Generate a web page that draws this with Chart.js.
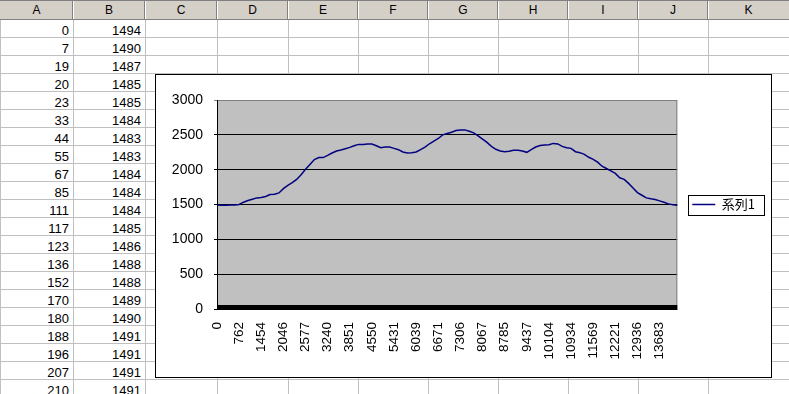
<!DOCTYPE html>
<html>
<head>
<meta charset="utf-8">
<script src="https://cdn.jsdelivr.net/npm/chart.js@4.4.0/dist/chart.umd.min.js"></script>
<style>
  html, body { margin: 0; padding: 0; background: #fff; overflow: hidden; }
  #sheet { position: relative; width: 789px; height: 394px; overflow: hidden; font-family: 'Liberation Sans', Arial, sans-serif; }
  #sheet div { position: absolute; }
  .hline { height: 1px; background: #c0c0c0; left: 0; width: 789px; }
  .vline { width: 1px; background: #c0c0c0; top: 20px; height: 380px; }
  .cell { height: 18px; line-height: 18px; font-size: 13px; text-align: right; color: #000; }
  .colname { top: 2px; height: 17px; line-height: 17px; font-size: 12px; text-align: center; color: #000; }
  #box { left: 155px; top: 74px; width: 617px; height: 304px; border: 1px solid #000; box-sizing: border-box; background: #fff; }
  #box canvas { display: block; }
</style>
</head>
<body>
<div id="sheet"></div>
<script>
// spreadsheet columns A and B
const colA = [0, 7, 19, 20, 23, 33, 44, 55, 67, 85, 111, 117, 123, 136, 152, 170, 180, 188, 196, 207, 210];
const colB = [1494, 1490, 1487, 1485, 1485, 1484, 1483, 1483, 1484, 1484, 1484, 1485, 1486, 1488, 1488, 1489, 1490, 1491, 1491, 1491, 1491];
const colNames = ['A', 'B', 'C', 'D', 'E', 'F', 'G', 'H', 'I', 'J', 'K'];

// chart data (one value every 5 categories between labels)
const tickLabels = ['0', '762', '1454', '2046', '2577', '3240', '3851', '4550', '5431', '6039', '6671',
  '7306', '8067', '8785', '9437', '10104', '10934', '11569', '12221', '12936', '13683'];
const values = [
  1494, 1490, 1491, 1492, 1494, 1500, 1533, 1557, 1576, 1595,
  1600, 1614, 1642, 1647, 1666, 1727, 1775, 1813, 1860, 1927,
  2007, 2074, 2145, 2173, 2173, 2204, 2239, 2268, 2282, 2301,
  2320, 2344, 2363, 2363, 2367, 2367, 2344, 2315, 2325, 2325,
  2306, 2287, 2254, 2239, 2244, 2254, 2287, 2325, 2372, 2410,
  2448, 2500, 2519, 2538, 2562, 2571, 2571, 2552, 2529, 2486,
  2439, 2391, 2334, 2292, 2268, 2258, 2263, 2277, 2277, 2268,
  2249, 2287, 2325, 2348, 2353, 2358, 2377, 2370, 2334, 2315,
  2306, 2258, 2244, 2220, 2178, 2149, 2107, 2050, 2017, 1983,
  1946, 1884, 1860, 1803, 1737, 1671, 1633, 1595, 1581, 1571,
  1552, 1533, 1509, 1495, 1491
];
const seriesName = '系列1';
const labelEvery = 5;

// ---- draw the sheet ----
const sheet = document.getElementById('sheet');
const colEdges = [0, 73, 145, 217, 288, 358, 428, 498, 568, 638, 708, 789];

function add(cls, css, text) {
  const d = document.createElement('div');
  if (cls) d.className = cls;
  Object.assign(d.style, css);
  if (text !== undefined) d.textContent = text;
  sheet.appendChild(d);
  return d;
}

add('', {left: '0px', top: '0px', width: '789px', height: '19px', background: '#d4d0c8', borderTop: '1px solid #808080', boxSizing: 'border-box'});
add('', {left: '0px', top: '19px', width: '789px', height: '1px', background: '#808080'});
for (let r = 1; r <= 21; r++) add('hline', {top: (19 + 18 * r) + 'px'});
add('vline', {left: '0px'});
for (let c = 1; c < colEdges.length - 1; c++) {
  add('vline', {left: colEdges[c] + 'px'});
  add('', {left: (colEdges[c] - 1) + 'px', top: '1px', width: '1px', height: '18px', background: '#808080'});
  add('', {left: colEdges[c] + 'px', top: '1px', width: '1px', height: '18px', background: '#fff'});
}
colNames.forEach((n, c) => {
  add('colname', {left: colEdges[c] + 'px', width: (colEdges[c + 1] - colEdges[c]) + 'px'}, n);
});
colA.forEach((v, r) => {
  add('cell', {left: '0px', width: '69px', top: (22 + 18 * r) + 'px'}, v);
  add('cell', {left: '73px', width: '68px', top: (22 + 18 * r) + 'px'}, colB[r]);
});

const box = add('', {});
box.id = 'box';
const canvas = document.createElement('canvas');
canvas.width = 615;
canvas.height = 302;
box.appendChild(canvas);

// ---- chart ----
Chart.defaults.font.family = "'Liberation Sans', Arial, sans-serif";
Chart.defaults.font.size = 13;
Chart.defaults.color = '#000';

const categories = values.map((v, i) => i % labelEvery === 0 ? tickLabels[i / labelEvery] : '');

const plotStyle = {
  id: 'plotStyle',
  beforeDraw(chart) {
    const {ctx, chartArea: a} = chart;
    ctx.save();
    ctx.fillStyle = '#c0c0c0';
    ctx.fillRect(a.left, a.top, a.right - a.left, a.bottom - a.top);
    ctx.restore();
  },
  beforeDatasetsDraw(chart) {
    const {ctx, chartArea: a} = chart;
    ctx.save();
    ctx.strokeStyle = '#808080';
    ctx.lineWidth = 1;
    ctx.beginPath();
    ctx.moveTo(a.left + 1, a.top + 0.5);
    ctx.lineTo(a.right - 0.5, a.top + 0.5);
    ctx.lineTo(a.right - 0.5, a.bottom);
    ctx.stroke();
    // the merged category tick marks make a black band along the bottom
    ctx.fillStyle = '#000';
    ctx.fillRect(a.left, a.bottom - 4, a.right - a.left, 5);
    ctx.restore();
  },
  afterDraw(chart) {
    const hb = chart.legend.legendHitBoxes[0];
    if (!hb) return;
    const ctx = chart.ctx;
    ctx.save();
    ctx.strokeStyle = '#000';
    ctx.lineWidth = 1;
    const cy = Math.round(hb.top + hb.height / 2);
    ctx.strokeRect(Math.round(hb.left - 4) + 0.5, cy - 10 + 0.5, Math.round(hb.width + 13), 20);
    ctx.restore();
  }
};

new Chart(canvas, {
  type: 'line',
  data: {
    labels: categories,
    datasets: [{
      label: seriesName,
      data: values,
      borderColor: '#000080',
      backgroundColor: '#000080',
      borderWidth: 1.5,
      pointRadius: 0,
      fill: false,
      tension: 0
    }]
  },
  options: {
    responsive: false,
    animation: false,
    events: [],
    layout: { padding: { top: 25, right: 6, left: 0, bottom: 0 } },
    plugins: {
      tooltip: { enabled: false },
      legend: {
        position: 'right',
        fullSize: false,
        labels: {
          usePointStyle: true,
          pointStyle: 'line',
          pointStyleWidth: 23,
          padding: 15,
          color: '#000',
          font: { family: "'Noto Sans CJK JP', sans-serif", size: 13 }
        }
      }
    },
    scales: {
      x: {
        grid: { display: false, drawTicks: false },
        border: { display: false },
        ticks: { autoSkip: false, maxRotation: 90, minRotation: 90, padding: 13, color: '#000', font: { size: 13.5 } },
        afterFit(scale) { scale.height = 68; }
      },
      y: {
        min: 0,
        max: 3000,
        ticks: { stepSize: 500, padding: 11, color: '#000', font: { size: 14 }, callback: v => String(v) },
        grid: {
          color: ctx => ctx.tick && ctx.tick.value === 3000 ? '#808080' : '#000',
          tickLength: 3,
          lineWidth: 1
        },
        border: { color: '#000', width: 1 },
        afterFit(scale) { scale.width = 61; }
      }
    }
  },
  plugins: [plotStyle]
});
</script>
</body>
</html>
